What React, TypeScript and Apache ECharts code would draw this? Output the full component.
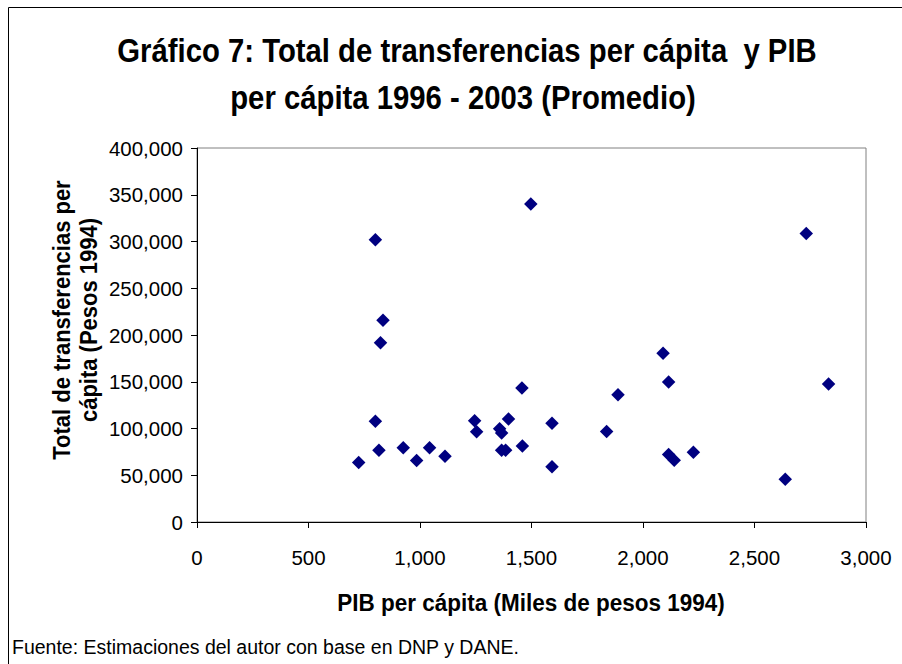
import React, { useEffect, useRef } from "react";
import * as echarts from "echarts";

// PIB per cápita (Miles de pesos 1994)
const pibPerCapita = [
  800, 1497, 834, 823, 800, 816, 725, 925, 985, 1043, 1112, 1245, 1254, 1357, 1366, 1397,
  1457, 1366, 1384, 1459, 2732, 2090, 2115, 2832, 1888, 1592, 1837, 1592, 2115, 2140, 2226, 2638,
];
// Total de transferencias per cápita (Pesos 1994)
const transferenciasPerCapita = [
  302000, 340000, 215700, 191600, 107700, 76800, 63600, 79300, 65800, 79300, 70400, 108400,
  96400, 99600, 95300, 110200, 143300, 76800, 76800, 81400, 308500, 180600, 149700, 147500,
  136100, 105500, 96700, 59100, 72200, 66100, 74600, 45800,
];

const titleLines = [
  "Gráfico 7: Total de transferencias per cápita  y PIB",
  "per cápita 1996 - 2003 (Promedio)",
];
const yAxisName = "Total de transferencias per\ncápita (Pesos 1994)";
const xAxisName = "PIB per cápita (Miles de pesos 1994)";
const footer = "Fuente: Estimaciones del autor con base en DNP y DANE.";

const xMin = 0;
const xMax = 3000;
const xStep = 500;
const yMin = 0;
const yMax = 400000;
const yStep = 50000;

const FONT = "'Liberation Sans', Arial, sans-serif";

export default function App() {
  const ref = useRef<HTMLDivElement>(null);

  useEffect(() => {
    if (!ref.current) return;
    const chart = echarts.init(ref.current, null, { renderer: "svg" });
    const fmt = (v: number) => v.toLocaleString("en-US");
    const points = pibPerCapita.map((x, i) => [x, transferenciasPerCapita[i]]);

    chart.setOption({
      animation: false,
      backgroundColor: "#ffffff",
      textStyle: { fontFamily: FONT },
      grid: {
        left: 197,
        top: 148,
        right: 36,
        bottom: 142,
        show: true,
        borderColor: "#808080",
        borderWidth: 1,
        backgroundColor: "#ffffff",
      },
      xAxis: {
        type: "value",
        min: xMin,
        max: xMax,
        interval: xStep,
        axisLine: { show: true, onZero: false, lineStyle: { color: "#000000", width: 1 } },
        axisTick: { show: true, inside: false, length: 6, lineStyle: { color: "#000000" } },
        splitLine: { show: false },
        axisLabel: {
          formatter: fmt,
          color: "#000000",
          fontFamily: FONT,
          fontSize: 20.5,
          margin: 25,
        },
      },
      yAxis: {
        type: "value",
        min: yMin,
        max: yMax,
        interval: yStep,
        axisLine: { show: true, onZero: false, lineStyle: { color: "#000000", width: 1 } },
        axisTick: { show: true, inside: false, length: 6, lineStyle: { color: "#000000" } },
        splitLine: { show: false },
        axisLabel: {
          formatter: fmt,
          color: "#000000",
          fontFamily: FONT,
          fontSize: 20.5,
          margin: 14,
        },
      },
      series: [
        {
          type: "scatter",
          data: points,
          symbol: "diamond",
          symbolSize: 13.5,
          itemStyle: { color: "#000080", opacity: 1 },
        },
      ],
      graphic: [
        {
          type: "line",
          shape: { x1: 8.5, y1: 7.5, x2: 902, y2: 7.5 },
          style: { stroke: "#000000", lineWidth: 1 },
        },
        {
          type: "line",
          shape: { x1: 8.5, y1: 7.5, x2: 8.5, y2: 664 },
          style: { stroke: "#000000", lineWidth: 1 },
        },
        {
          type: "text",
          x: 467,
          y: 50,
          scaleY: 1.15,
          style: {
            text: titleLines[0],
            fontFamily: FONT,
            fontSize: 29.3,
            fontWeight: "bold",
            fill: "#000000",
            textAlign: "center",
            textVerticalAlign: "middle",
          },
        },
        {
          type: "text",
          x: 463,
          y: 97,
          scaleY: 1.15,
          style: {
            text: titleLines[1],
            fontFamily: FONT,
            fontSize: 29.3,
            fontWeight: "bold",
            fill: "#000000",
            textAlign: "center",
            textVerticalAlign: "middle",
          },
        },
        {
          type: "text",
          x: 75,
          y: 320,
          rotation: Math.PI / 2,
          scaleY: 1.1,
          style: {
            text: yAxisName,
            fontFamily: FONT,
            fontSize: 22,
            fontWeight: "bold",
            lineHeight: 25,
            fill: "#000000",
            textAlign: "center",
            textVerticalAlign: "middle",
          },
        },
        {
          type: "text",
          x: 531,
          y: 603,
          scaleY: 1.1,
          style: {
            text: xAxisName,
            fontFamily: FONT,
            fontSize: 22.5,
            fontWeight: "bold",
            fill: "#000000",
            textAlign: "center",
            textVerticalAlign: "middle",
          },
        },
        {
          type: "text",
          x: 12,
          y: 647,
          style: {
            text: footer,
            fontFamily: FONT,
            fontSize: 19.5,
            fill: "#000000",
            textAlign: "left",
            textVerticalAlign: "middle",
          },
        },
      ],
    });

    return () => chart.dispose();
  }, []);

  return (
    <div
      ref={ref}
      style={{ position: "fixed", left: 0, top: 0, width: 902, height: 664, background: "#ffffff" }}
    />
  );
}
